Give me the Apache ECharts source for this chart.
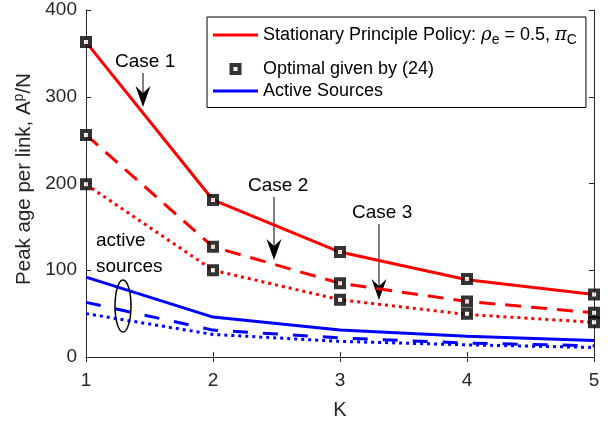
<!DOCTYPE html>
<html><head><meta charset="utf-8">
<script src="https://cdn.jsdelivr.net/npm/echarts@6/dist/echarts.min.js"></script>
<style>html,body{margin:0;padding:0;background:#fff}#c{width:608px;height:425px}</style>
</head><body><div id="c"></div>
<script>
const K = [1, 2, 3, 4, 5];
const case1 = [363, 181, 121, 89, 72];
const case2 = [256, 127, 85, 64, 51];
const case3 = [199, 100, 66, 49, 40];
const active1 = [92, 46, 31, 24, 19];
const active2 = [63, 31, 22, 16, 13];
const active3 = [50, 26, 18, 14, 11];
const optimal1 = [363, 181, 121, 90, 72];
const optimal2 = [256, 127, 85, 64, 51];
const optimal3 = [199, 100, 66, 50, 40];
const yTicks = [0, 100, 200, 300, 400];

const FONT = 'Liberation Sans';
const TXT = '#262626';
const RED = '#ff0000', BLUE = '#0000ff';
const pts = a => a.map((v, i) => [K[i], v]);
const optPts = [].concat(pts(optimal1), pts(optimal2), pts(optimal3));
const LEG1 = 'Stationary Principle Policy: {i|ρ}{sub|e} = 0.5, {i|π}{sub|C}';
const LINE_ICON = 'path://M0,0H45V3H0Z';
const SQ_ICON = 'path://M0,0H12V12H0Z M4,4V8H8V4Z';

const chart = echarts.init(document.getElementById('c'));
function line(name, data, color, type) {
  return { name, type: 'line', data: pts(data), symbol: 'none', z: 2,
    lineStyle: { color, width: 3, type }, itemStyle: { color } };
}
function label(text, x, y, size) {
  return { type: 'text', z: 20, style: { text, x, y, fontSize: size || 19, fill: '#000', fontFamily: FONT,
    align: 'left', verticalAlign: 'middle', lineHeight: 26 } };
}
function arrow(x, y1, y2) {
  return [
    { type: 'line', shape: { x1: x, y1, x2: x, y2: y2 - 4 }, style: { stroke: '#000', lineWidth: 1 } },
    { type: 'polygon', shape: { points: [[x - 7.5, y2 - 21], [x, y2], [x + 7.5, y2 - 21], [x, y2 - 14]] }, style: { fill: '#000' } }
  ];
}
const legText = { fontSize: 18, color: '#000', fontFamily: FONT };
chart.setOption({
  animation: false,
  textStyle: { fontFamily: FONT },
  grid: { left: 86, right: 14, top: 10, bottom: 66 },
  xAxis: [{
    type: 'value', min: 1, max: 5, interval: 1,
    name: 'K', nameLocation: 'middle', nameGap: 43,
    nameTextStyle: { fontSize: 20, color: TXT, fontFamily: FONT },
    axisLine: { lineStyle: { color: TXT, width: 1 } },
    axisTick: { inside: true, length: 5, lineStyle: { color: TXT } },
    axisLabel: { fontSize: 19, color: TXT, margin: 14, fontFamily: FONT },
    splitLine: { show: false }
  }, {
    type: 'value', min: 1, max: 5, interval: 1, position: 'top',
    axisLine: { show: true, lineStyle: { color: TXT, width: 1 } },
    axisTick: { inside: true, length: 5, lineStyle: { color: TXT } },
    axisLabel: { show: false }, splitLine: { show: false }
  }],
  yAxis: [{
    type: 'value', min: yTicks[0], max: yTicks[yTicks.length - 1], interval: 100,
    name: 'Peak age per link, A{sup|p}/N', nameLocation: 'middle', nameGap: 50,
    nameTextStyle: { fontSize: 20.5, color: TXT, fontFamily: FONT, padding: [0, 0, 0, 9],
      rich: { sup: { fontSize: 14, color: TXT, fontFamily: FONT, padding: [0, 0, 10, 0] } } },
    axisLine: { show: true, lineStyle: { color: TXT, width: 1 } },
    axisTick: { inside: true, length: 5, lineStyle: { color: TXT } },
    axisLabel: { fontSize: 19, color: TXT, margin: 9, fontFamily: FONT },
    splitLine: { show: false }
  }, {
    type: 'value', min: 0, max: 400, interval: 100, position: 'right',
    axisLine: { show: true, lineStyle: { color: TXT, width: 1 } },
    axisTick: { inside: true, length: 5, lineStyle: { color: TXT } },
    axisLabel: { show: false }, splitLine: { show: false }
  }],
  legend: [{
    orient: 'vertical', left: 207, top: 17, z: 10,
    backgroundColor: '#fff', borderColor: '#000', borderWidth: 1,
    padding: [9, 9, 60, 6], itemWidth: 45, itemHeight: 12,
    data: [{ name: LEG1, icon: LINE_ICON, itemStyle: { color: RED, borderWidth: 0 } }],
    textStyle: Object.assign({}, legText, {
      rich: {
        i: { fontSize: 18, fontStyle: 'italic', fontFamily: 'DejaVu Serif', color: '#000' },
        sub: { fontSize: 14, color: '#000', fontFamily: FONT, padding: [11, 0, 0, 0] }
      } })
  }, {
    orient: 'vertical', left: 213, top: 59, z: 11,
    padding: 0, itemGap: 2, itemWidth: 45, itemHeight: 12,
    data: [
      { name: 'Optimal given by (24)', icon: SQ_ICON, itemStyle: { color: '#000', borderWidth: 0 } },
      { name: 'Active Sources', icon: LINE_ICON, itemStyle: { color: BLUE, borderWidth: 0 } }
    ],
    textStyle: Object.assign({}, legText, { lineHeight: 20 })
  }],
  series: [
    line(LEG1, case1, RED, 'solid'),
    line('case2', case2, RED, [16, 10]),
    line('case3', case3, RED, [3, 4]),
    line('Active Sources', active1, BLUE, 'solid'),
    line('active2', active2, BLUE, [15, 15]),
    line('active3', active3, BLUE, [3, 4]),
    { name: 'Optimal given by (24)', type: 'scatter', data: optPts, symbol: 'rect',
      symbolSize: 8, z: 5,
      itemStyle: { color: '#fff', borderColor: '#000', borderWidth: 4 } }
  ],
  graphic: [
    label('Case 1', 115, 62),
    ...arrow(143, 73, 107),
    label('Case 2', 248, 186),
    ...arrow(274, 197, 260),
    label('Case 3', 352, 213),
    ...arrow(379, 224, 300),
    label('active\nsources', 96, 254),
    { type: 'ellipse', shape: { cx: 123, cy: 306, rx: 8, ry: 26 }, style: { fill: 'none', stroke: '#000', lineWidth: 1.5 }, z: 10 }
  ]
});
</script></body></html>
